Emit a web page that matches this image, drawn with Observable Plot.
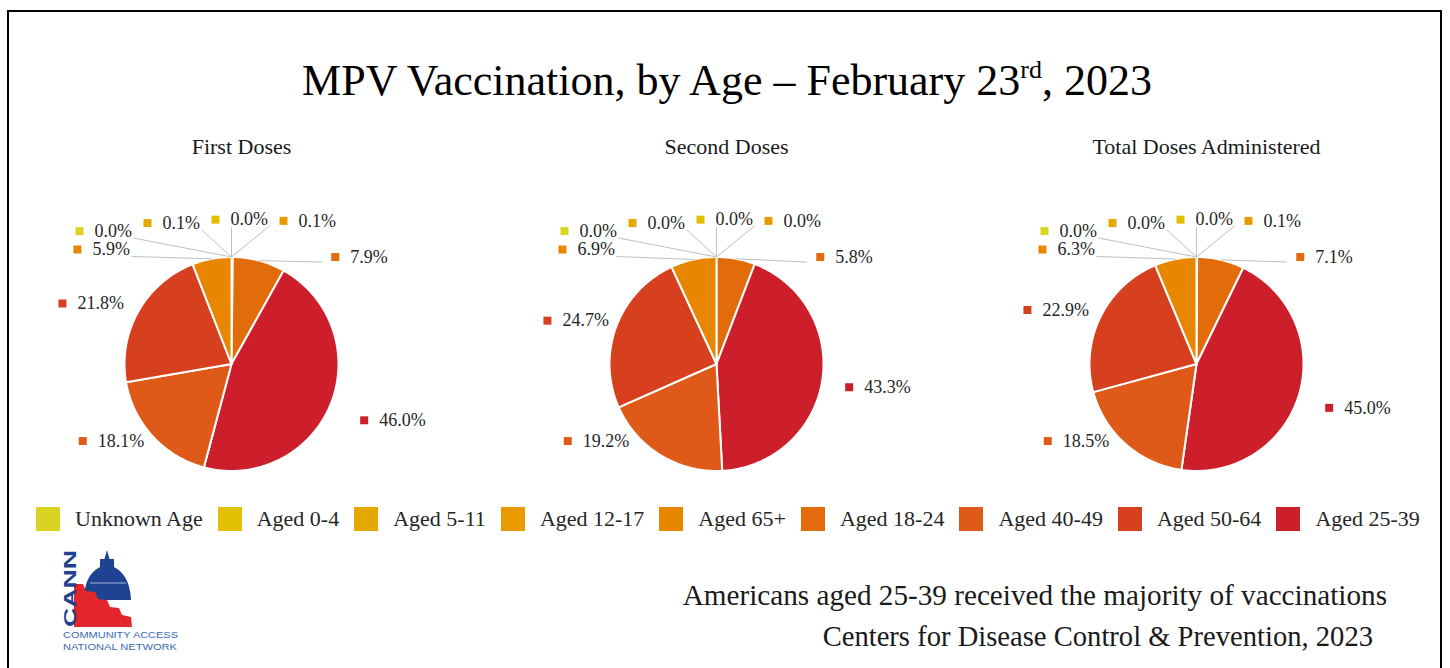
<!DOCTYPE html>
<html>
<head>
<meta charset="utf-8">
<script src="https://cdn.jsdelivr.net/npm/d3@7"></script>
<script src="https://cdn.jsdelivr.net/npm/@observablehq/plot@0.6"></script>
<style>
  html, body { margin: 0; padding: 0; background: #fff; }
  body { width: 1450px; height: 668px; position: relative; overflow: hidden; font-family: "Liberation Serif", "Times New Roman", serif; }
  .abs { position: absolute; }
  .chart { top: 120px; width: 482px; height: 375px; }
  .chart svg { overflow: visible; }
  #legend { left: 36px; top: 502px; }
  #legend .lg-swatches { margin: 0 !important; font-family: "Liberation Serif", serif !important; font-size: 22px !important; color: #262626; min-height: 33px; flex-wrap: nowrap !important; white-space: nowrap; }
  #legend .lg-swatch { margin-right: 15px !important; }
  #legend .lg-swatch > svg { margin-right: 15px !important; }
</style>
</head>
<body>
<svg id="deco" class="abs" style="left:0;top:0" width="1450" height="668" font-family="Liberation Serif, serif">
  <rect x="8" y="11" width="1433" height="690" fill="none" stroke="#000" stroke-width="2"/>
  <text x="727" y="95" text-anchor="middle" font-size="44" fill="#000">MPV Vaccination, by Age – February 23<tspan font-size="26" dy="-17">rd</tspan><tspan dy="17">, 2023</tspan></text>
  <text x="1387" y="605" text-anchor="end" font-size="29.2" fill="#1a1a1a">Americans aged 25-39 received the majority of vaccinations</text>
  <text x="1373" y="646" text-anchor="end" font-size="28.6" fill="#1a1a1a">Centers for Disease Control &amp; Prevention, 2023</text>
  <g id="logo">
    <path d="M84,600 C84,578 94,567 107,565 C120,567 130,578 131,600 Z" fill="#1f4391"/>
    <path d="M90,583 L126,583" stroke="#ffffff" stroke-width="1" opacity="0.6"/>
    <rect x="100" y="559" width="14" height="8" fill="#1f4391"/>
    <path d="M107,550 L109.5,559 L104.5,559 Z" fill="#1f4391"/>
    <path d="M74,584 L83,584 L86,591 L95,592 L98,599 L107,600 L110,607 L119,608 L122,615 L131,617 L132,627 L74,627 Z" fill="#e3262b"/>
    <text transform="translate(76,627) rotate(-90)" font-family="Liberation Sans, sans-serif" font-weight="bold" font-size="17" fill="#1f4391" textLength="77" lengthAdjust="spacingAndGlyphs">CANN</text>
    <text x="63" y="638" font-family="Liberation Sans Narrow, Liberation Sans, sans-serif" font-size="9.5" fill="#3a69b3" textLength="115" lengthAdjust="spacingAndGlyphs">COMMUNITY ACCESS</text>
    <text x="63" y="650" font-family="Liberation Sans Narrow, Liberation Sans, sans-serif" font-size="9.5" fill="#3a69b3" textLength="114" lengthAdjust="spacingAndGlyphs">NATIONAL NETWORK</text>
  </g>
</svg>
<div id="c0" class="abs chart" style="left:-1px"></div>
<div id="c1" class="abs chart" style="left:484px"></div>
<div id="c2" class="abs chart" style="left:964px"></div>
<div id="legend" class="abs"></div>
<script>
// ---- data (legend order) ----
const categories = ["Unknown Age","Aged 0-4","Aged 5-11","Aged 12-17","Aged 65+","Aged 18-24","Aged 40-49","Aged 50-64","Aged 25-39"];
const colors = ["#d9d421","#e0c000","#e5a800","#e89a00","#e98600","#e36c0a","#df5a19","#d6401f","#cc1f2b"];
const charts = ["First Doses","Second Doses","Total Doses Administered"];
const firstDoses  = [0.0, 0.0, 0.1, 0.1, 5.9, 7.9, 18.1, 21.8, 46.0];
const secondDoses = [0.0, 0.0, 0.0, 0.0, 6.9, 5.8, 19.2, 24.7, 43.3];
const totalDoses  = [0.0, 0.0, 0.0, 0.1, 6.3, 7.1, 18.5, 22.9, 45.0];
// clockwise order of the slices from 12 o'clock
const pieOrder = ["Aged 5-11","Aged 0-4","Aged 12-17","Aged 18-24","Aged 25-39","Aged 40-49","Aged 50-64","Aged 65+","Unknown Age"];

// ---- layout ----
const R = 107, W = 482, H = 375, CX = 232, CY = 243.5;
const ctx = document.createElement("canvas").getContext("2d");
ctx.font = "18px 'Liberation Serif'";
const textW = s => ctx.measureText(s).width;

function buildChart(name, values) {
  const byCat = new Map(categories.map((c, i) => [c, values[i]]));
  const rows = pieOrder.map(c => ({category: c, value: byCat.get(c)}));
  const arcs = d3.pie().sort(null).value(d => d.value)(rows);
  const n = arcs.length;

  const slices = [];
  arcs.forEach((a, i) => {
    if (a.data.value <= 0) return;
    const steps = Math.max(2, Math.ceil((a.endAngle - a.startAngle) / (Math.PI / 180)));
    slices.push({key: i, category: a.data.category, x: 0, y: 0});
    for (let j = 0; j <= steps; j++) {
      const t = a.startAngle + (a.endAngle - a.startAngle) * j / steps;
      slices.push({key: i, category: a.data.category, x: Math.sin(t), y: Math.cos(t)});
    }
    slices.push({key: i, category: a.data.category, x: 0, y: 0});
  });

  const labels = [], leaders = [];
  const toU = (px, py) => ({x: px / R, y: -py / R});
  function addLeader(id, mx, my, tw, tx, ty) {
    const boxL = mx - 4, boxR = mx + 15 + tw;
    let sx, sy;
    if (tx >= boxL && tx <= boxR) { sx = tx; sy = my + 8; }
    else if (tx > boxR) { sx = boxR + 2; sy = my + 7; }
    else { sx = mx - 14; sy = my + 5; }
    const p0 = toU(sx, sy), p1 = toU(tx, ty);
    leaders.push({id, x: p0.x, y: p0.y}, {id, x: p1.x, y: p1.y});
  }

  // tiny slices, ordered left to right around the top
  const midOf = a => (a.startAngle + a.endAngle) / 2;
  const tiny = arcs.map((a, i) => ({a, i})).filter(d => d.a.data.value < 1)
    .sort((p, q) => (midOf(p.a) > Math.PI ? p.i - n : p.i) - (midOf(q.a) > Math.PI ? q.i - n : q.i));
  const tinyRank = new Map(tiny.map((d, k) => [d.i, k]));

  arcs.forEach((a, i) => {
    const v = a.data.value;
    const label = v.toFixed(1) + "%";
    const tw = textW(label);
    const m = midOf(a), s = Math.sin(m), c = Math.cos(m);
    let mx, my;
    if (v >= 10) {
      if (s > 0) { mx = 1.24 * R; my = -c * 1.4 * R; }
      else if (c < 0) { mx = -1.39 * R; my = 0.72 * R; }
      else { mx = -1.58 * R; my = -c * 1.15 * R; }
    } else if (v >= 1) {
      if (s > 0) { mx = 0.97 * R; my = -1.0 * R; }
      else { mx = -1.44 * R; my = -1.07 * R; }
      addLeader(i, mx, my, tw, R * s, -R * c);
    } else {
      const k = tinyRank.get(i);
      mx = -152 + 68 * k;
      my = -1.35 * R + 0.0005 * mx * mx;
      addLeader(i, mx, my, tw, 0, -R);
    }
    const u = toU(mx, my);
    labels.push({category: a.data.category, label, x: u.x, y: u.y});
  });

  return Plot.plot({
    width: W, height: H,
    marginTop: 0, marginRight: 0, marginBottom: 0, marginLeft: 0,
    x: {domain: [-CX / R, (W - CX) / R], axis: null},
    y: {domain: [-(H - CY) / R, CY / R], axis: null},
    color: {type: "ordinal", domain: categories, range: colors},
    style: {background: "transparent", fontFamily: "'Liberation Serif', serif", overflow: "visible"},
    marks: [
      Plot.line(slices, {x: "x", y: "y", z: "key", fill: "category", stroke: "white", strokeWidth: 2, strokeLinejoin: "round"}),
      Plot.line(leaders, {x: "x", y: "y", z: "id", stroke: "#bfbfbf", strokeWidth: 1}),
      Plot.dot(labels, {x: "x", y: "y", symbol: "square", r: 4.5, fill: "category"}),
      Plot.text(labels, {x: "x", y: "y", text: "label", dx: 15, textAnchor: "start", lineAnchor: "middle", fontSize: 18, fill: "#262626"}),
      Plot.text([name], {text: d => d, frameAnchor: "top", dx: CX + 10 - W / 2, dy: 33, lineAnchor: "bottom", fontSize: 22, fill: "#1a1a1a"})
    ]
  });
}

const allValues = [firstDoses, secondDoses, totalDoses];
charts.forEach((name, i) => {
  document.getElementById("c" + i).appendChild(buildChart(name, allValues[i]));
});

document.getElementById("legend").appendChild(Plot.legend({
  color: {type: "ordinal", domain: categories, range: colors},
  legend: "swatches",
  swatchWidth: 24, swatchHeight: 24,
  className: "lg"
}));
</script>
</body>
</html>
